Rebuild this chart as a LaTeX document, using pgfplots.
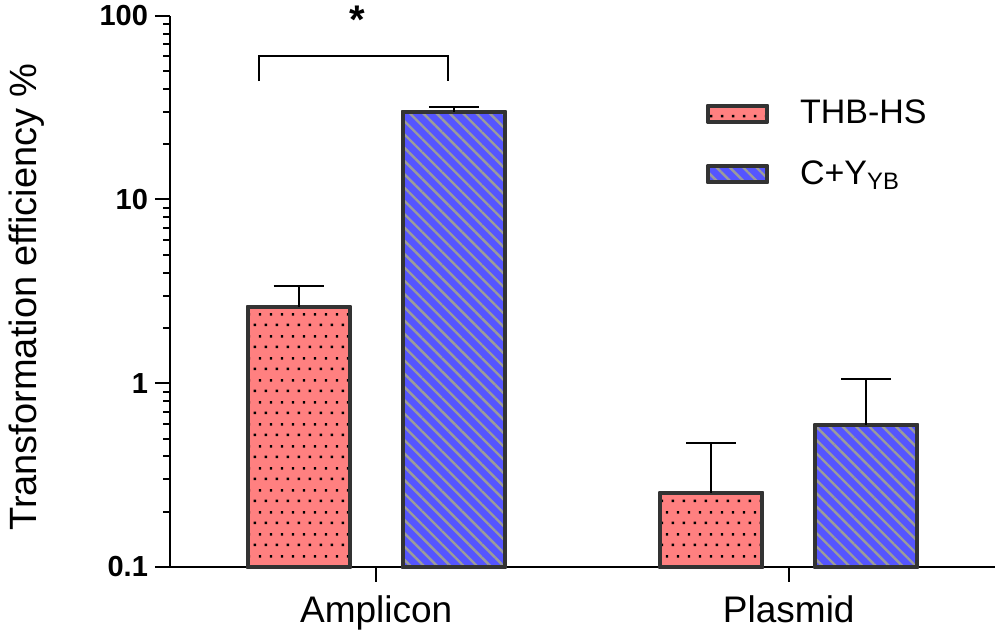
\documentclass[border=0pt]{standalone}
\usepackage{fontspec}
\setmainfont{Liberation Sans}
\usepackage{pgfplots}
\pgfplotsset{compat=1.18}
\usetikzlibrary{patterns.meta}
\definecolor{barred}{RGB}{255,128,128}
\definecolor{barblue}{RGB}{85,85,255}
\definecolor{stripe}{RGB}{155,155,155}
\definecolor{edge}{RGB}{51,51,51}
\pgfdeclarepattern{
  name=dotgrid,
  type=uncolored,
  bottom left={\pgfpointorigin},
  top right={\pgfpoint{5.5pt}{11pt}},
  tile size={\pgfpoint{5.5pt}{11pt}},
  code={
    \pgfpathrectangle{\pgfpoint{0.4pt}{0.4pt}}{\pgfpoint{1.3pt}{1.3pt}}
    \pgfpathrectangle{\pgfpoint{3.15pt}{5.9pt}}{\pgfpoint{1.3pt}{1.3pt}}
    \pgfusepath{fill}
  }
}
\pgfplotsset{swatch legend/.style={legend image code/.code={\draw[##1] (0pt,-4pt) rectangle (29.5pt,4pt);}}}
% bar positions: category 0 = Amplicon, 1 = Plasmid; bars sit 0.188 left/right of the category
\pgfplotstableread{
x y ey
-0.188 2.6 0.78
0.812 0.253 0.22
}\thbhs
\pgfplotstableread{
x y ey
0.188 30 1.8
1.188 0.593 0.46
}\cyyb
\begin{document}
\begin{tikzpicture}
\path[use as bounding box] (0,0) rectangle (500pt,317pt);
\begin{axis}[
  at={(85pt,33.5pt)}, anchor=south west,
  scale only axis, width=412.5pt, height=275.65pt,
  ymode=log, ymin=0.1, ymax=100, log origin=infty,
  xmin=-0.5, xmax=1.5,
  axis x line=bottom, axis y line=left,
  axis line style={-, line width=1pt, black},
  xtick={0,1}, xticklabels={Amplicon,Plasmid},
  ytick={0.1,1,10,100}, yticklabels={0.1,1,10,100},
  minor ytick={0.2,0.3,0.4,0.5,0.6,0.7,0.8,0.9,2,3,4,5,6,7,8,9,20,30,40,50,60,70,80,90},
  tick align=outside, major tick length=7.5pt, minor tick length=3.5pt,
  tick style={line width=1pt, black},
  yticklabel style={font=\bfseries\fontsize{14.5}{16}\selectfont},
  xticklabel style={font=\fontsize{18.5}{20}\selectfont, yshift=-3.5pt},
  every axis y label/.style={at={(rel axis cs:0,0.489)}, xshift=-71.5pt, rotate=90, anchor=center, font=\fontsize{19}{22}\selectfont},
  ylabel={Transformation efficiency \%},
  clip=false,
  legend style={at={(rel axis cs:0.642,0.862)}, anchor=north west, draw=none, fill=none,
    font=\fontsize{17}{20}\selectfont, row sep=13pt, nodes={inner xsep=15.5pt}},
  legend cell align=left,
]
\addplot[ybar, bar width=0.248, bar shift=0, draw=edge, line width=2pt, line join=round,
  fill=barred, postaction={pattern=dotgrid, pattern color=black}, swatch legend]
  table[x=x,y=y] {\thbhs};
\addlegendentry{THB-HS}
\addplot[ybar, bar width=0.248, bar shift=0, draw=edge, line width=2pt, line join=round,
  fill=barblue, postaction={pattern={Lines[angle=-45,distance=4.7pt,line width=1.2pt]}, pattern color=stripe}, swatch legend]
  table[x=x,y=y] {\cyyb};
\addlegendentry{C+Y\textsubscript{YB}}
\addplot[ybar, forget plot, bar width=0.248, bar shift=0, draw=edge, fill=none, line width=2pt, line join=round,
  error bars/.cd, y dir=plus, y explicit, error mark=-,
  error bar style={black, line width=1pt},
  error mark options={black, line width=1pt, mark size=12.5pt, rotate=90}]
  table[x=x,y=y,y error=ey] {\thbhs};
\addplot[ybar, forget plot, bar width=0.248, bar shift=0, draw=edge, fill=none, line width=2pt, line join=round,
  error bars/.cd, y dir=plus, y explicit, error mark=-,
  error bar style={black, line width=1pt},
  error mark options={black, line width=1pt, mark size=12.5pt, rotate=90}]
  table[x=x,y=y,y error=ey] {\cyyb};
\draw[line width=1pt] (axis cs:-0.285,44.1) -- (axis cs:-0.285,60.3) -- (axis cs:0.175,60.3) -- (axis cs:0.175,44.1);
\node[anchor=base, font=\bfseries\fontsize{20}{20}\selectfont, inner sep=0pt] at (axis cs:-0.046,80) {*};
\end{axis}
\end{tikzpicture}
\end{document}
